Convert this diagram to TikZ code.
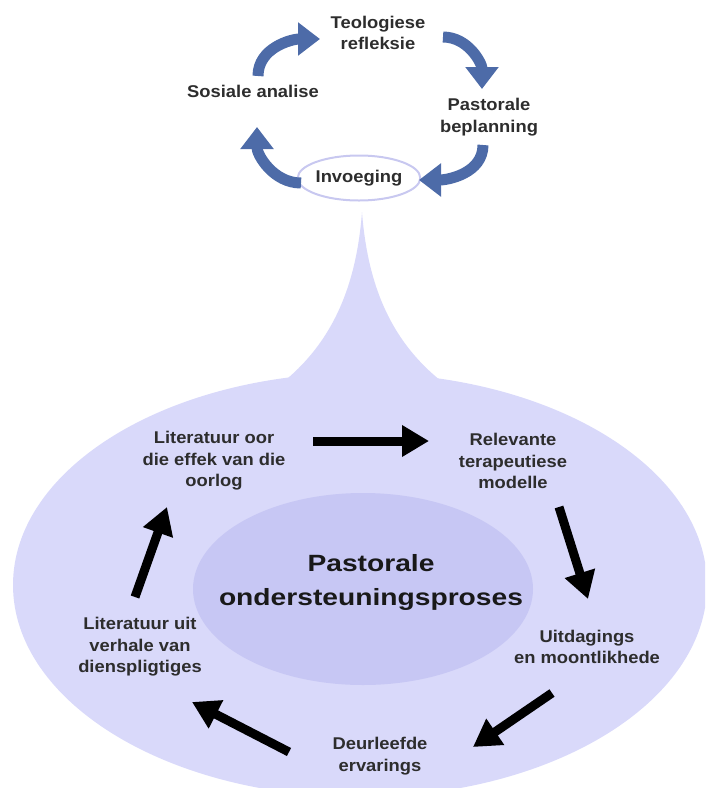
\documentclass[tikz,border=0pt]{standalone}
\usepackage{fontspec}
\setmainfont{Liberation Sans}
\newfontfamily\lblfont[FakeStretch=1.08]{Liberation Sans}
\newfontfamily\bigfnt[FakeStretch=1.2]{Liberation Sans}
\usetikzlibrary{arrows.meta,shapes.geometric}
\definecolor{outerc}{RGB}{217,217,250}
\definecolor{innerc}{RGB}{199,199,244}
\definecolor{bluearr}{RGB}{77,107,168}
\definecolor{txt}{RGB}{45,45,45}
\definecolor{ringc}{RGB}{200,200,240}
\begin{document}
\begin{tikzpicture}[x=1pt,y=-1pt,
  lbl/.style={font=\lblfont\bfseries\fontsize{17}{21.5}\selectfont, text=txt, align=center, inner sep=0pt},
  bigl/.style={font=\bigfnt\bfseries\fontsize{23.5}{34}\selectfont, text=black!90, align=center, inner sep=0pt},
  barr/.style={line width=11pt, draw=bluearr, -{Triangle[length=22pt,width=32pt]}},
  karr/.style={line width=9pt, draw=black, -{Triangle[length=27pt,width=30pt]}}]
\useasboundingbox (0,0) rectangle (705,788);
\clip (0,0) rectangle (705,788);
% big shape
\fill[outerc] (360,585) ellipse [x radius=347pt, y radius=212pt];
\fill[outerc] (270,392) .. controls (330,350) and (356,290) .. (362,212)
  .. controls (368,290) and (394,350) .. (456,392) -- cycle;
\fill[innerc] (363,589) ellipse [x radius=170pt, y radius=96pt];
% top cycle
\node[lbl] (teo) at (378,33) {Teologiese\\refleksie};
\node[lbl] (sos) at (253,91) {Sosiale analise};
\node[lbl] (pas) at (489,117) {Pastorale\\beplanning};
\node[lbl, ellipse, draw=ringc, line width=2pt, fill=white, minimum width=118pt, minimum height=45pt] (inv) at (359,178) {Invoeging};
\coordinate (b1s) at (258,76); \coordinate (b1e) at (320,39);
\coordinate (b2s) at (443,37); \coordinate (b2e) at (482,89);
\coordinate (b3s) at (483,145); \coordinate (b3e) at (419,180);
\coordinate (b4s) at (301,183); \coordinate (b4e) at (257,127);
\draw[barr] (b1s) to[out=90,in=180] (b1e);
\draw[barr] (b2s) to[out=0,in=90] (b2e);
\draw[barr] (b3s) to[out=-90,in=0] (b3e);
\draw[barr] (b4s) to[out=180,in=-90] (b4e);
% lower cycle
\node[bigl] (cen) at (371,582) {Pastorale\\ondersteuningsproses};
\node[lbl] (lit1) at (214,461) {Literatuur oor\\die effek van die\\oorlog};
\node[lbl] (rel) at (513,461) {Relevante\\terapeutiese\\modelle};
\node[lbl] (uit) at (587,647) {Uitdagings\\en moontlikhede};
\node[lbl] (deu) at (380,756) {Deurleefde\\ervarings};
\node[lbl] (lit2) at (140,647) {Literatuur uit\\verhale van\\dienspligtiges};
\coordinate (k1s) at (313,441); \coordinate (k1e) at (429,441);
\coordinate (k2s) at (559,507); \coordinate (k2e) at (588,599);
\coordinate (k3s) at (552,693); \coordinate (k3e) at (473,747);
\coordinate (k4s) at (289,752); \coordinate (k4e) at (192,702);
\coordinate (k5s) at (135,597); \coordinate (k5e) at (167,507);
\draw[karr] (k1s) -- (k1e);
\draw[karr] (k2s) -- (k2e);
\draw[karr] (k3s) -- (k3e);
\draw[karr] (k4s) -- (k4e);
\draw[karr] (k5s) -- (k5e);
\end{tikzpicture}
\end{document}
